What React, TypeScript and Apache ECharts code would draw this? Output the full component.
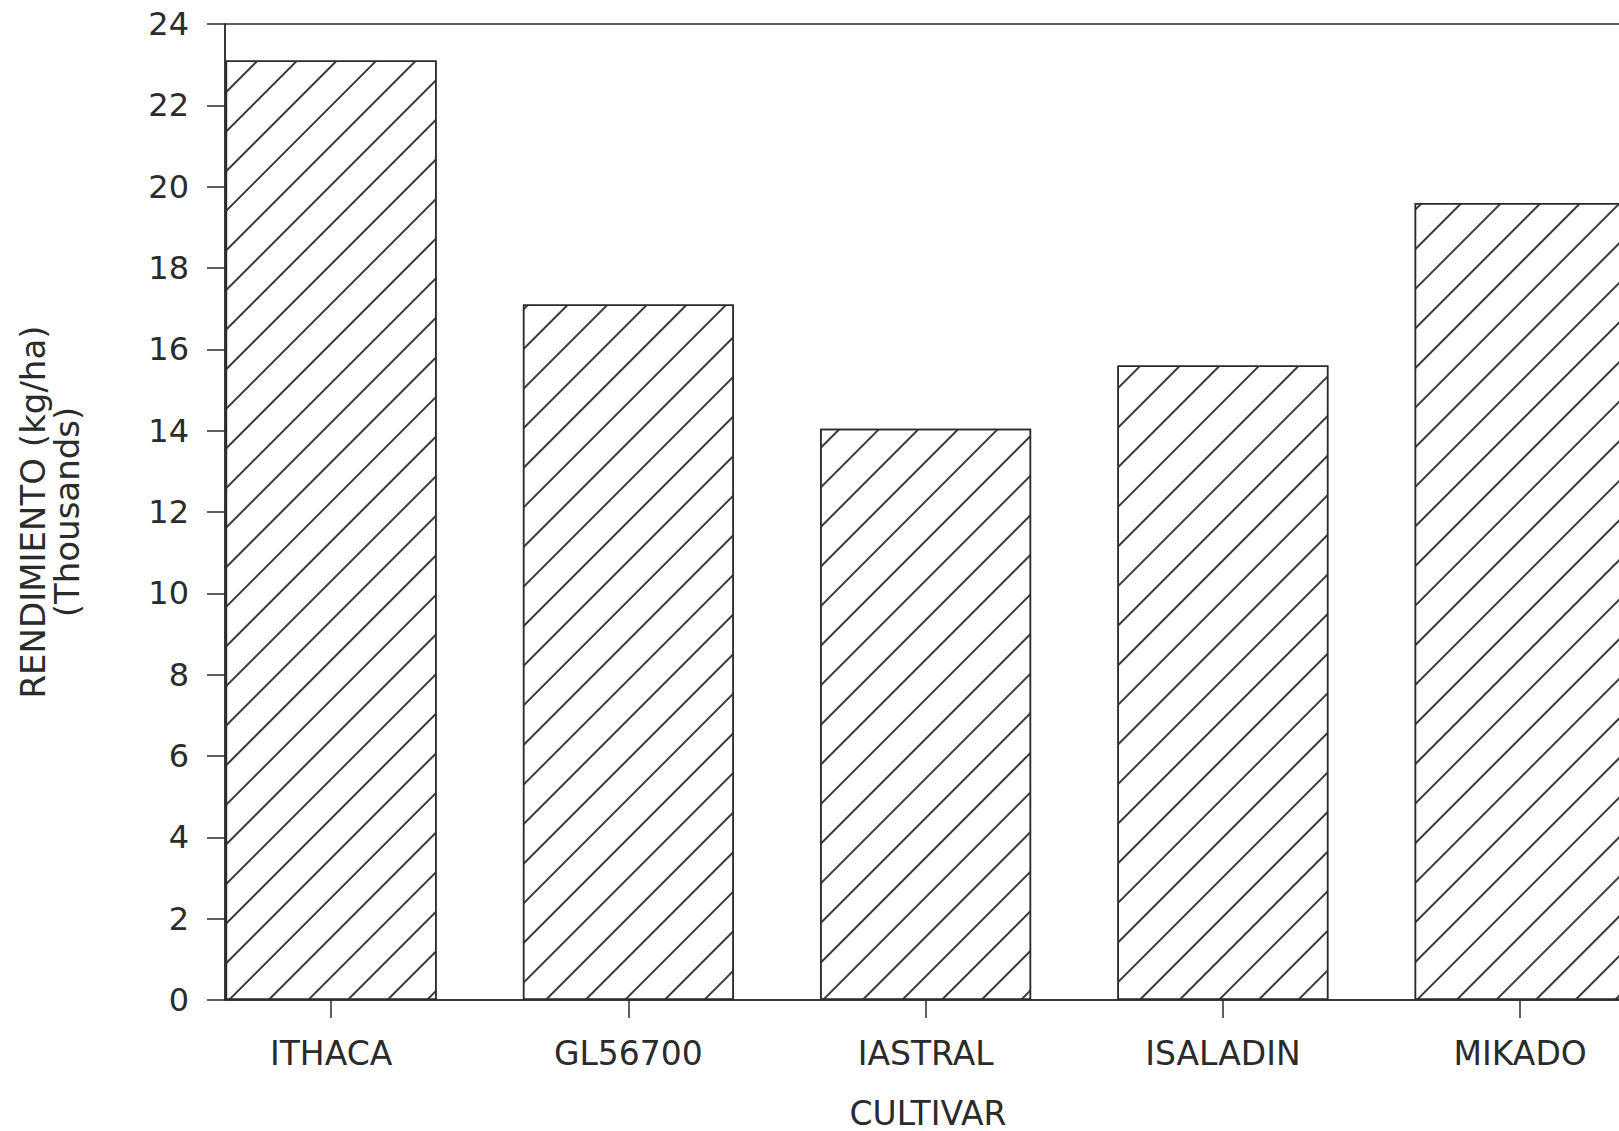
import React, { useEffect, useRef } from "react";
import * as echarts from "echarts";

const categories = ["ITHACA", "GL56700", "IASTRAL", "ISALADIN", "MIKADO"];
const categoryPositions = [1, 2, 3, 4, 5];
const yieldThousands = [23.1, 17.1, 14.05, 15.6, 19.6];
const yMin = 0;
const yMax = 24;
const yStep = 2;
const yAxisName = "RENDIMIENTO (kg/ha)\n(Thousands)";
const xAxisName = "CULTIVAR";

const INK = "#2b2b2b";
const FONT = "DejaVu Sans";

export default function App() {
  const ref = useRef<HTMLDivElement>(null);

  useEffect(() => {
    document.body.style.margin = "0";
    document.body.style.overflow = "hidden";
    if (!ref.current) return;
    const chart = echarts.init(ref.current, null, { renderer: "svg" });

    const barData = categoryPositions.map((x, i) => [x, yieldThousands[i]]);

    chart.setOption({
      animation: false,
      backgroundColor: "#ffffff",
      grid: {
        left: 225,
        top: 24,
        bottom: 131,
        right: 21.5,
        show: true,
        borderColor: INK,
        borderWidth: 1.5,
        backgroundColor: "transparent",
      },
      xAxis: {
        type: "value",
        min: 0.643,
        max: 5.6,
        splitLine: { show: false },
        axisLine: { show: true, lineStyle: { color: INK, width: 1.5 } },
        axisTick: {
          show: true,
          customValues: categoryPositions,
          length: 18,
          lineStyle: { color: INK, width: 1.5 },
        },
        axisLabel: {
          customValues: categoryPositions,
          formatter: (v: number) => categories[Math.round(v) - 1] ?? "",
          margin: 37,
          fontSize: 33,
          fontFamily: FONT,
          color: INK,
        },
      },
      yAxis: {
        type: "value",
        min: yMin,
        max: yMax,
        interval: yStep,
        splitLine: { show: false },
        axisLine: { show: true, lineStyle: { color: INK, width: 1.5 } },
        axisTick: { show: true, length: 18, lineStyle: { color: INK, width: 1.5 } },
        axisLabel: {
          margin: 36,
          fontSize: 32,
          fontFamily: FONT,
          color: INK,
        },
        name: yAxisName,
        nameLocation: "middle",
        nameGap: 141,
        nameRotate: 90,
        nameTextStyle: {
          fontSize: 34,
          lineHeight: 34,
          fontFamily: FONT,
          color: INK,
          align: "center",
        },
      },
      graphic: [
        {
          type: "text",
          x: 928,
          y: 1113,
          style: {
            text: xAxisName,
            fontSize: 33,
            fontFamily: FONT,
            fill: INK,
            align: "center",
            verticalAlign: "middle",
          },
        },
      ],
      series: [
        {
          type: "bar",
          data: barData,
          barWidth: 211,
          itemStyle: {
            color: "#ffffff",
            borderColor: INK,
            borderWidth: 1.5,
            decal: {
              symbol: "rect",
              symbolSize: 1,
              dashArrayX: [1, 0],
              dashArrayY: [2, 26],
              rotation: -Math.PI / 4,
              color: "#3a3a3a",
              backgroundColor: "#ffffff",
            },
          },
        },
      ],
    });

    return () => chart.dispose();
  }, []);

  return <div ref={ref} style={{ width: 1720, height: 1131 }} />;
}
